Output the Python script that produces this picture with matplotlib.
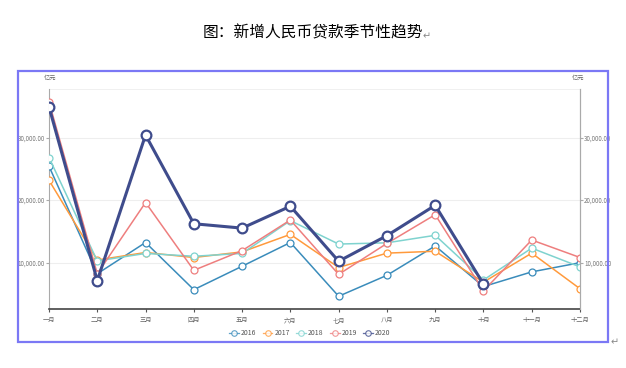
import matplotlib
matplotlib.use("Agg")
import matplotlib.pyplot as plt
from matplotlib.patches import Rectangle
from matplotlib.ticker import FuncFormatter

plt.rcParams['font.family'] = ['Noto Sans CJK SC', 'DejaVu Sans']

months = ["一月", "二月", "三月", "四月", "五月", "六月", "七月", "八月", "九月", "十月", "十一月", "十二月"]
years = ["2016", "2017", "2018", "2019", "2020"]
v2016 = [25400, 8200, 13200, 5650, 9400, 13200, 4600, 7950, 12650, 6150, 8500, 9970]
v2017 = [23150, 10400, 11600, 10800, 11700, 14500, 9200, 11500, 11800, 6850, 11500, 5800]
v2018 = [26800, 10250, 11450, 11000, 11450, 16700, 12950, 13150, 14350, 7200, 12300, 9300]
v2019 = [35700, 8200, 19600, 8750, 11900, 16800, 8100, 13050, 17650, 5450, 13600, 10800]
v2020 = [34900, 7100, 30400, 16200, 15500, 19000, 10200, 14300, 19150, 6550]
series = [v2016, v2017, v2018, v2019, v2020]
colors = ["#3a8cbb", "#ff9a3c", "#7fd3cf", "#ee7e7e", "#3f4c8c"]
ticks = [10000, 20000, 30000]

fig = plt.figure(figsize=(6.26, 3.68), dpi=100)
fig.patch.set_facecolor("white")

# frame
fig.patches.append(Rectangle((18/626, 1-342/368), 590/626, 271/368, transform=fig.transFigure,
                             fill=False, edgecolor="#7b78f5", linewidth=1.6))
fig.text(313/626, 1-33/368, "图：新增人民币贷款季节性趋势", ha="center", va="center",
         fontsize=11.3, color="black")
fig.text(423/626, 1-36/368, "↵", ha="left", va="center", fontsize=7, color="#888888",
         family=['DejaVu Sans'])
fig.text(611/626, 1-342/368, "↵", ha="left", va="center", fontsize=7, color="#888888",
         family=['DejaVu Sans'])

ax = fig.add_axes([49/626, 1-309/368, 531/626, 220/368])
x = list(range(len(months)))
for i, (name, vals, c) in enumerate(zip(years, series, colors)):
    thick = (name == "2020")
    ax.plot(x[:len(vals)], vals, color=c, linewidth=2.2 if thick else 1.1,
            marker="o", markersize=7 if thick else 5,
            markerfacecolor="white", markeredgecolor=c,
            markeredgewidth=1.6 if thick else 0.9, label=name, zorder=3 + i)

ax.set_xlim(0, 11)
ax.set_ylim(2560, 37760)
ax.set_xticks(x)
ax.set_xticklabels(months, fontsize=4.5, color="#666666")
ax.set_yticks(ticks)
fmt = FuncFormatter(lambda v, p: f"{v:,.2f}")
ax.yaxis.set_major_formatter(fmt)
ax.tick_params(axis="y", labelsize=4.5, labelcolor="#777777", length=2, color="#aaaaaa", pad=1)
ax.tick_params(axis="x", length=2, color="#555555", pad=3)
ax.grid(axis="y", color="#eeeeee", linewidth=0.8)
ax.axhline(37760, color="#eeeeee", linewidth=1.2, zorder=0)
ax.spines["top"].set_visible(False)
ax.spines["left"].set_color("#aaaaaa")
ax.spines["left"].set_linewidth(0.8)
ax.spines["right"].set_color("#aaaaaa")
ax.spines["right"].set_linewidth(0.8)
ax.spines["bottom"].set_color("#444444")
ax.spines["bottom"].set_linewidth(1.2)

ax2 = ax.twinx()
ax2.set_ylim(ax.get_ylim())
ax2.set_yticks(ticks)
ax2.yaxis.set_major_formatter(fmt)
ax2.tick_params(axis="y", labelsize=4.5, labelcolor="#777777", length=2, color="#aaaaaa", pad=1)
for s in ["top", "left", "bottom"]:
    ax2.spines[s].set_visible(False)
ax2.spines["right"].set_color("#aaaaaa")
ax2.spines["right"].set_linewidth(0.8)

fig.text(50/626, 1-78/368, "亿元", ha="center", va="center", fontsize=4.5, color="#666666")
fig.text(578/626, 1-78/368, "亿元", ha="center", va="center", fontsize=4.5, color="#666666")

handles, labels = ax.get_legend_handles_labels()
leg = fig.legend(handles, labels, loc="center", bbox_to_anchor=(310/626, 1-333/368), ncol=5,
                 frameon=False, fontsize=5, handlelength=1.4, handletextpad=0.3,
                 columnspacing=0.9)
for t in leg.get_texts():
    t.set_color("#555555")
for lh, c in zip(leg.get_lines(), colors):
    lh.set_linewidth(0.9)
    lh.set_markersize(4)
    lh.set_markeredgewidth(0.8)
    lh.set_alpha(0.8)

fig.savefig("out.png", dpi=100)
